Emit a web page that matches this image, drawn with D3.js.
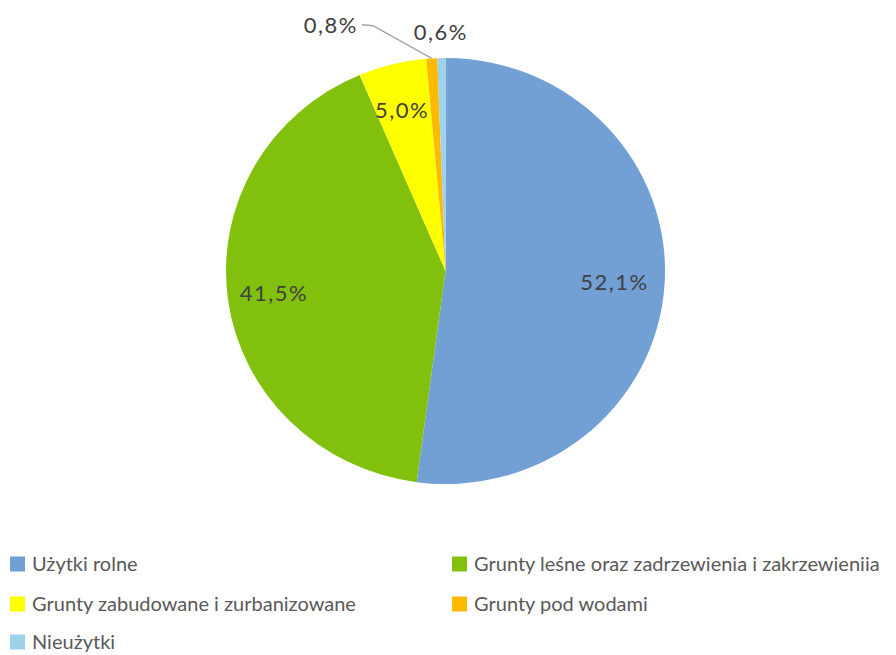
<!DOCTYPE html>
<html>
<head>
<meta charset="utf-8">
<script src="https://cdnjs.cloudflare.com/ajax/libs/d3/7.8.5/d3.min.js"></script>
<style>
  body { margin: 0; background: #fff; }
  text { font-family: Lato, "Open Sans", sans-serif; }
</style>
</head>
<body>
<div id="main"></div>
<script>
// land use shares (percent), clockwise from 12 o'clock
const categories = ["Użytki rolne", "Grunty leśne oraz zadrzewienia i zakrzewieniia",
  "Grunty zabudowane i zurbanizowane", "Grunty pod wodami", "Nieużytki"];
const values = [52.1, 41.5, 5.0, 0.8, 0.6];
const labels = ["52,1%", "41,5%", "5,0%", "0,8%", "0,6%"];
const colors = ["#729FD4", "#82C00E", "#FFFF00", "#FFB900", "#9DD2EB"];

const ctx = { width: 896, height: 655, cx: 445.5, cy: 271, rx: 219.5, ry: 213 };

const svg = d3.select("#main").append("svg")
  .attr("width", ctx.width).attr("height", ctx.height);

const pie = d3.pie().sort(null).value(d => d);
const arcs = pie(values);
const arc = d3.arc().innerRadius(0).outerRadius(ctx.rx);

// pie slightly squashed vertically like the source
const pieG = svg.append("g")
  .attr("transform", `translate(${ctx.cx},${ctx.cy}) scale(1,${ctx.ry / ctx.rx})`);

pieG.selectAll("path").data(arcs).enter().append("path")
  .attr("d", arc)
  .attr("fill", (d, i) => colors[i]);

// point on the ellipse at angle a and radial factor k
function polar(a, k) {
  return [ctx.cx + Math.sin(a) * ctx.rx * k, ctx.cy - Math.cos(a) * ctx.ry * k];
}

const labelG = svg.append("g")
  .attr("font-size", 22).attr("letter-spacing", 1.5)
  .attr("fill", "#404040").attr("text-anchor", "middle");

arcs.forEach(function(d, i) {
  const mid = (d.startAngle + d.endAngle) / 2;
  if (values[i] >= 2) {
    const p = polar(mid, 0.78);
    labelG.append("text").attr("x", p[0] - 2).attr("y", p[1])
      .attr("dy", "0.35em").text(labels[i]);
  }
});

// the two thin slices get outside labels
const last = arcs[4], prev = arcs[3];
const pLast = polar((last.startAngle + last.endAngle) / 2, 1.12);
labelG.append("text").attr("x", pLast[0]).attr("y", pLast[1])
  .attr("dy", "0.35em").text(labels[4]);

const prevText = labelG.append("text")
  .attr("x", pLast[0] - 110).attr("y", pLast[1] - 7)
  .attr("dy", "0.35em").text(labels[3]);
const bb = prevText.node().getBBox();
const tip = polar((prev.startAngle + prev.endAngle) / 2, 1.0);
svg.append("polyline")
  .attr("points", [[bb.x + bb.width + 4, bb.y + bb.height / 2],
                   [bb.x + bb.width + 15, bb.y + bb.height / 2 + 1], tip].join(" "))
  .attr("fill", "none").attr("stroke", "#A6A6A6").attr("stroke-width", 1.5);

// legend, two columns
const legend = svg.append("g").attr("font-size", 20).attr("fill", "#595959");
const colX = [10, 452], rowY = [564, 604, 642];
categories.forEach(function(c, i) {
  const g = legend.append("g")
    .attr("transform", `translate(${colX[i % 2]},${rowY[Math.floor(i / 2)]})`);
  g.append("rect").attr("x", 0).attr("y", -7.5).attr("width", 15).attr("height", 15)
    .attr("fill", colors[i]);
  g.append("text").attr("x", 22).attr("dy", "0.35em").text(c);
});
</script>
</body>
</html>
